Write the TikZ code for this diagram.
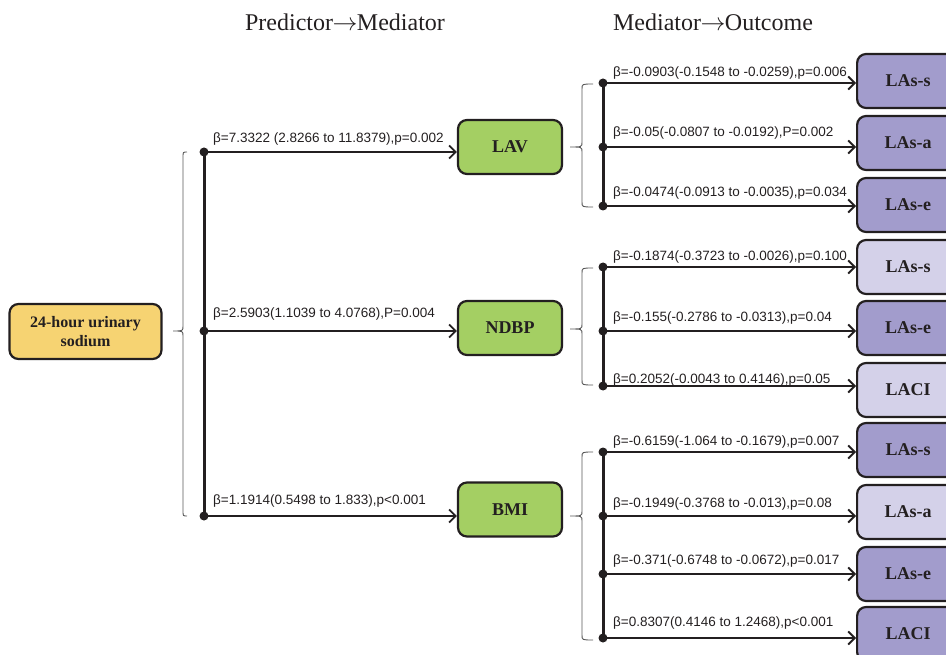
\documentclass[tikz,border=0pt]{standalone}
\usepackage{fontspec}
\setmainfont{Liberation Serif}
\newfontfamily\labfont{Liberation Sans}
\usetikzlibrary{arrows.meta}
\definecolor{srcfill}{HTML}{F6D372}
\definecolor{medfill}{HTML}{A4CF63}
\definecolor{outdark}{HTML}{A29CCC}
\definecolor{outlight}{HTML}{D4D1E9}
\definecolor{edge}{HTML}{231F20}
\tikzset{
 box/.style={draw=edge, line width=2.2pt, rounded corners=9pt, font=\bfseries\fontsize{18}{20}\selectfont, text=edge, inner sep=0pt},
 srcbox/.style={box, fill=srcfill, minimum width=152pt, minimum height=55pt, font=\bfseries\fontsize{16}{19}\selectfont, align=center},
 medbox/.style={box, fill=medfill, minimum width=104pt, minimum height=54pt},
 outbox/.style={box, minimum width=102pt, minimum height=54pt, anchor=west},
 sig/.style={outbox, fill=outdark},
 nsig/.style={outbox, fill=outlight},
 arr/.style={line width=1.8pt, draw=edge, -{Straight Barb[length=6.5pt, width=13pt]}},
 spine/.style={line width=3pt, draw=edge},
 bracestyle/.style={line width=0.9pt, draw=black!65},
 lab/.style={font=\labfont\fontsize{13.5}{16}\selectfont, anchor=base west, inner sep=0pt, text=edge},
 title/.style={font=\fontsize{24}{28}\selectfont, text=edge},
 dot/.style={fill=edge}
}
% #1 end x, #2 spine x, #3 tip x, #4 top y, #5 tip y, #6 bottom y
\newcommand{\curly}[6]{%
 \draw[bracestyle] ({#1},{#4}) .. controls ({#2},{#4}) .. ({#2},{#4+5}) -- ({#2},{#5-5})
   .. controls ({#2},{#5}) .. ({#3},{#5}) .. controls ({#2},{#5}) .. ({#2},{#5+5})
   -- ({#2},{#6-5}) .. controls ({#2},{#6}) .. ({#1},{#6});}
\newcommand{\tarrow}{\kern-0.5pt$\rightarrow$\kern-0.5pt}
\begin{document}
\begin{tikzpicture}[x=1pt,y=-1pt]
\useasboundingbox (0,0) rectangle (946,655);
\clip (0,0) rectangle (946,655);

% titles
\node[title] (t1) at (345,22) {Predictor\tarrow Mediator};
\node[title] (t2) at (713,22) {Mediator\tarrow Outcome};

% predictor and mediators
\node[srcbox] (src) at (85.5,331.5) {24-hour urinary\\sodium};
\node[medbox] (lav) at (510,147) {LAV};
\node[medbox] (ndbp) at (510,328) {NDBP};
\node[medbox] (bmi) at (510,509.5) {BMI};

% outcomes
\node[sig]  (o11) at (856,81)  {LAs-s};
\node[sig]  (o12) at (856,143) {LAs-a};
\node[sig]  (o13) at (856,205) {LAs-e};
\node[nsig] (o21) at (856,267) {LAs-s};
\node[sig]  (o22) at (856,328) {LAs-e};
\node[nsig] (o23) at (856,390) {LACI};
\node[sig]  (o31) at (856,450) {LAs-s};
\node[nsig] (o32) at (856,512) {LAs-a};
\node[sig]  (o33) at (856,574) {LAs-e};
\node[sig]  (o34) at (856,634) {LACI};

% level 1 junctions
\coordinate (a1) at (204,152);
\coordinate (a2) at (204,331);
\coordinate (a3) at (204,516);
\curly{187}{183}{173}{152}{331}{516}
\draw[spine] (a1) -- (a3);
\draw[arr] (a1) -- (a1 -| lav.west);
\draw[arr] (a2) -- (a2 -| ndbp.west);
\draw[arr] (a3) -- (a3 -| bmi.west);
\foreach \p in {a1,a2,a3} \fill[dot] (\p) circle (4.5pt);
\node[lab] (la1) at (213,143) {β=7.3322 (2.8266 to 11.8379),p=0.002};
\node[lab] (la2) at (213,318) {β=2.5903(1.1039 to 4.0768),P=0.004};
\node[lab] (la3) at (213,504) {β=1.1914(0.5498 to 1.833),p<0.001};

% level 2 junctions
\coordinate (b11) at (603,83);
\coordinate (b12) at (603,147);
\coordinate (b13) at (603,206);
\coordinate (b21) at (603,267);
\coordinate (b22) at (603,331);
\coordinate (b23) at (603,386);
\coordinate (b31) at (603,452);
\coordinate (b32) at (603,516);
\coordinate (b33) at (603,574);
\coordinate (b34) at (603,638);

\curly{593}{582}{570}{84}{147}{207}
\curly{593}{582}{570}{268}{329}{385}
\curly{593}{582}{570}{452}{516}{640}

\draw[spine] (b11) -- (b13);
\draw[spine] (b21) -- (b23);
\draw[spine] (b31) -- (b34);

\draw[arr] (b11) -- (b11 -| o11.west);
\draw[arr] (b12) -- (b12 -| o12.west);
\draw[arr] (b13) -- (b13 -| o13.west);
\draw[arr] (b21) -- (b21 -| o21.west);
\draw[arr] (b22) -- (b22 -| o22.west);
\draw[arr] (b23) -- (b23 -| o23.west);
\draw[arr] (b31) -- (b31 -| o31.west);
\draw[arr] (b32) -- (b32 -| o32.west);
\draw[arr] (b33) -- (b33 -| o33.west);
\draw[arr] (b34) -- (b34 -| o34.west);
\foreach \p in {b11,b12,b13,b21,b22,b23,b31,b32,b33,b34} \fill[dot] (\p) circle (4.5pt);

\node[lab] (l11) at (613,77)  {β=-0.0903(-0.1548 to -0.0259),p=0.006};
\node[lab] (l12) at (613,137) {β=-0.05(-0.0807 to -0.0192),P=0.002};
\node[lab] (l13) at (613,197) {β=-0.0474(-0.0913 to -0.0035),p=0.034};
\node[lab] (l21) at (613,261) {β=-0.1874(-0.3723 to -0.0026),p=0.100};
\node[lab] (l22) at (613,322) {β=-0.155(-0.2786 to -0.0313),p=0.04};
\node[lab] (l23) at (613,383) {β=0.2052(-0.0043 to 0.4146),p=0.05};
\node[lab] (l31) at (613,445) {β=-0.6159(-1.064 to -0.1679),p=0.007};
\node[lab] (l32) at (613,507) {β=-0.1949(-0.3768 to -0.013),p=0.08};
\node[lab] (l33) at (613,564) {β=-0.371(-0.6748 to -0.0672),p=0.017};
\node[lab] (l34) at (613,626) {β=0.8307(0.4146 to 1.2468),p<0.001};
\end{tikzpicture}
\end{document}
